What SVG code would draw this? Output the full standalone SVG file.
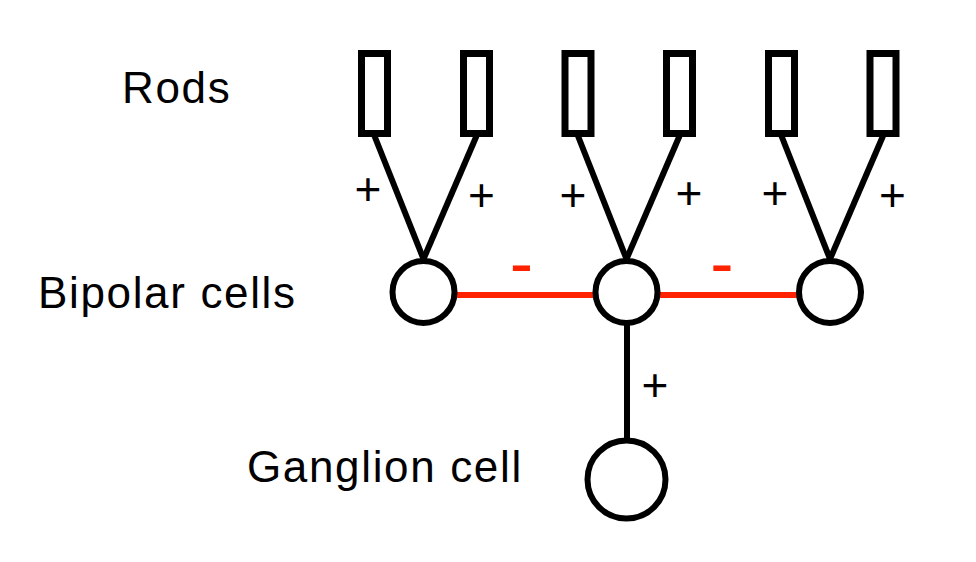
<svg xmlns="http://www.w3.org/2000/svg" width="976" height="562" viewBox="0 0 976 562">
<style>
.lbl{font-family:"Liberation Sans",Arial,sans-serif;font-size:44px;fill:#000;letter-spacing:1.65px}
.plus{font-family:"Liberation Sans",Arial,sans-serif;font-size:46px;fill:#000;text-anchor:middle}
.minus{font-family:"Liberation Sans",Arial,sans-serif;font-size:70px;fill:#ff2200;text-anchor:middle}
.rod{fill:#fff;stroke:#000;stroke-width:7}
.cell{fill:#fff;stroke:#000;stroke-width:6}
.ex{stroke:#000;stroke-width:6;fill:none}
.inh{stroke:#ff2200;stroke-width:6;fill:none}
</style>
<rect width="976" height="562" fill="#fff"/>
<g id="labels">
<text class="lbl" x="122" y="103">Rods</text>
<text class="lbl" x="38" y="308">Bipolar cells</text>
<text class="lbl" x="247" y="482">Ganglion cell</text>
</g>
<g id="connectors">
<line class="ex" x1="374.5" y1="136" x2="423.5" y2="259"/>
<line class="ex" x1="476.5" y1="136" x2="423.5" y2="259"/>
<line class="ex" x1="578" y1="136" x2="626.5" y2="259"/>
<line class="ex" x1="679.5" y1="136" x2="626.5" y2="259"/>
<line class="ex" x1="781.5" y1="136" x2="830" y2="259"/>
<line class="ex" x1="883" y1="136" x2="830" y2="259"/>
<line class="inh" x1="454" y1="295" x2="596" y2="295"/>
<line class="inh" x1="657" y1="295" x2="800" y2="295"/>
<line class="ex" x1="627" y1="322" x2="627" y2="442"/>
<text class="plus" x="368" y="205">+</text>
<text class="plus" x="481.5" y="211">+</text>
<text class="plus" x="573" y="211">+</text>
<text class="plus" x="689" y="209">+</text>
<text class="plus" x="775" y="209">+</text>
<text class="plus" x="892.5" y="211">+</text>
<text class="plus" x="655" y="401">+</text>
<text class="minus" x="521.5" y="287">-</text>
<text class="minus" x="722" y="287">-</text>
</g>
<g id="rod1"><rect class="rod" x="361.5" y="53.5" width="26" height="80"/></g>
<g id="rod2"><rect class="rod" x="463.5" y="53.5" width="26" height="80"/></g>
<g id="rod3"><rect class="rod" x="565" y="53.5" width="26" height="80"/></g>
<g id="rod4"><rect class="rod" x="666.5" y="53.5" width="26" height="80"/></g>
<g id="rod5"><rect class="rod" x="768.5" y="53.5" width="26" height="80"/></g>
<g id="rod6"><rect class="rod" x="870" y="53.5" width="26" height="80"/></g>
<g id="bipolar1"><circle class="cell" cx="423.5" cy="292" r="31"/></g>
<g id="bipolar2"><circle class="cell" cx="626.5" cy="292" r="31"/></g>
<g id="bipolar3"><circle class="cell" cx="830" cy="292" r="31"/></g>
<g id="ganglion"><circle class="cell" cx="626.5" cy="479.5" r="39"/></g>
</svg>
